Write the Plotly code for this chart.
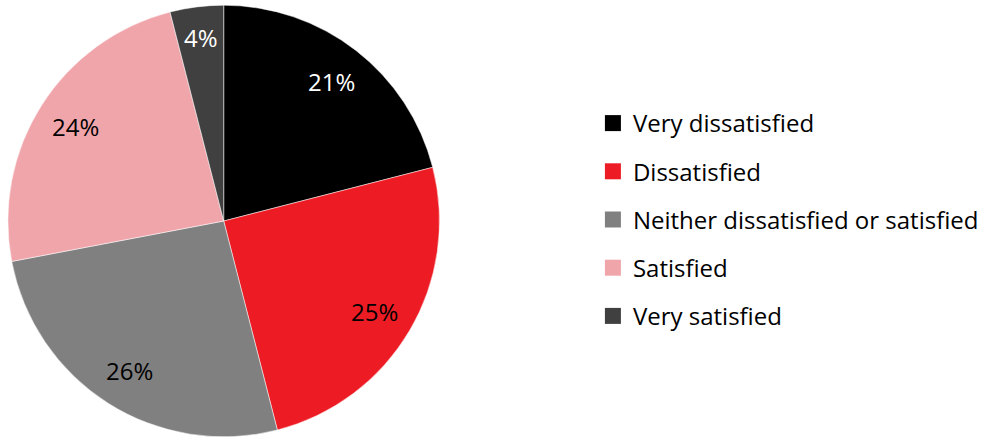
import math
import plotly.graph_objects as go

categories = ["Very dissatisfied", "Dissatisfied", "Neither dissatisfied or satisfied", "Satisfied", "Very satisfied"]
values = [21, 25, 26, 24, 4]
colors = ["#000000", "#ED1C24", "#808080", "#F0A5AB", "#404040"]
text_colors = ["#FFFFFF", "#000000", "#000000", "#000000", "#FFFFFF"]

W, H = 984, 439
dom_x = [8 / W, 444 / W]
dom_y = [0 / H, 436 / H]

fig = go.Figure()
fig.add_trace(go.Pie(
    labels=categories, values=values, sort=False, direction="clockwise", rotation=0,
    marker=dict(colors=colors, line=dict(color="#FFFFFF", width=0.5)),
    textinfo="none", showlegend=False, hoverinfo="label+percent",
    domain=dict(x=dom_x, y=dom_y),
))

# data labels placed along each slice's mid-angle
cx = (dom_x[0] + dom_x[1]) / 2 * W
cy = (dom_y[0] + dom_y[1]) / 2 * H
R = 216
total = sum(values)
cum = 0
for v, tc in zip(values, text_colors):
    mid = (cum + v / 2) / total * 2 * math.pi
    cum += v
    frac = 0.82 if v / total > 0.08 else 0.855
    px = cx + frac * R * math.sin(mid)
    py = cy + frac * R * math.cos(mid)
    fig.add_annotation(x=px / W, y=py / H, xref="paper", yref="paper",
                       xanchor="center", yanchor="middle",
                       text=f"{v}%", showarrow=False,
                       font=dict(family="Open Sans", size=24, color=tc))

for c, col in zip(categories, colors):
    fig.add_trace(go.Scatter(
        x=[None], y=[None], mode="markers", name=c,
        marker=dict(symbol="square", size=16, color=col), legendgroup=c,
    ))

fig.update_layout(
    width=W, height=H, margin=dict(l=0, r=0, t=0, b=0),
    paper_bgcolor="white", plot_bgcolor="white",
    font=dict(family="Open Sans", size=24, color="#000000"),
    xaxis=dict(visible=False), yaxis=dict(visible=False),
    legend=dict(x=599 / W, y=0.5, xanchor="left", yanchor="middle",
                font=dict(family="Open Sans", size=24, color="#000000"),
                tracegroupgap=14, itemwidth=30),
)
fig.write_html("out.html", config={"displayModeBar": False},
               post_script="document.body.style.margin='0';")
